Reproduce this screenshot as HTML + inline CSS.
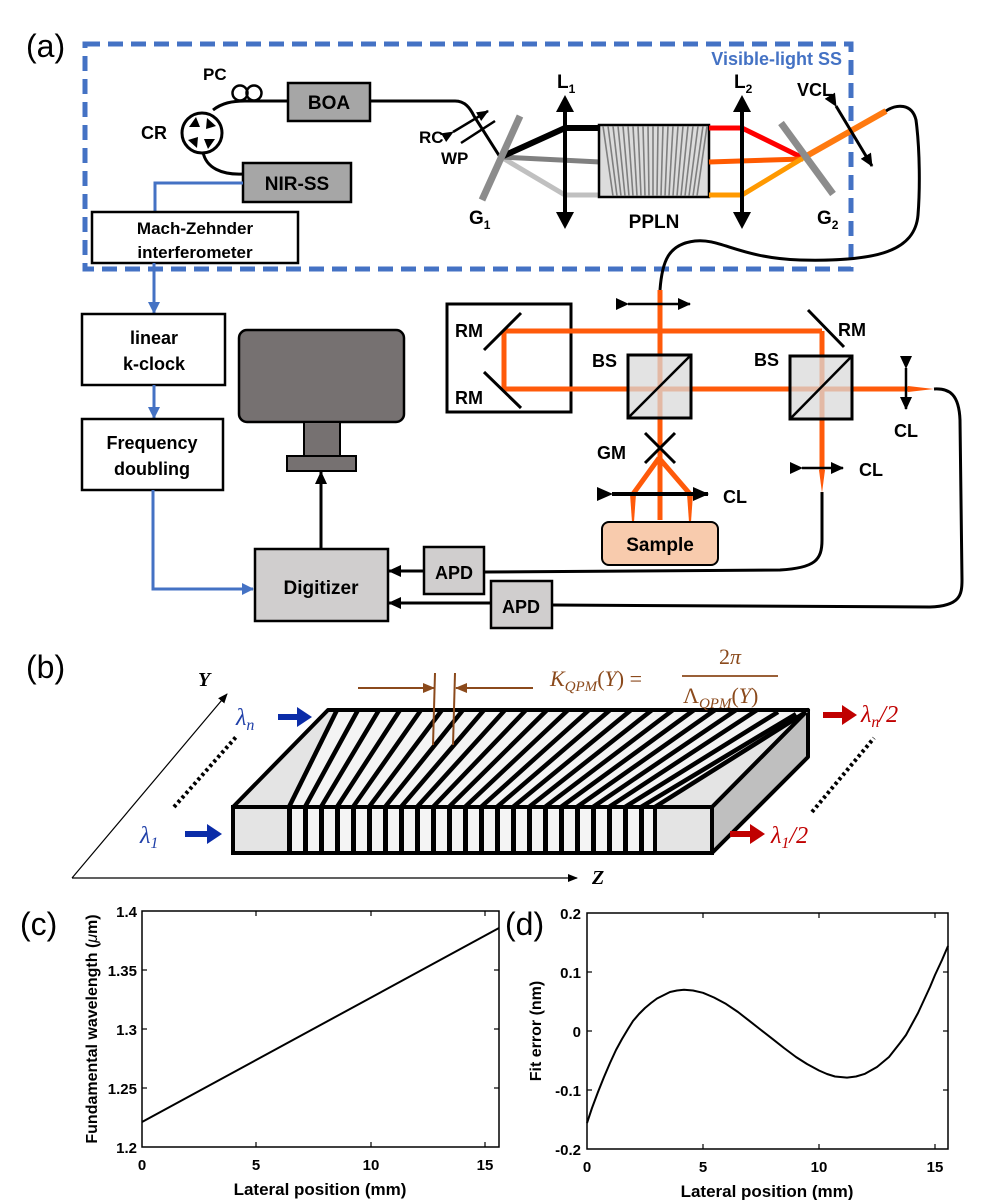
<!DOCTYPE html>
<html><head><meta charset="utf-8"><style>
html,body{margin:0;padding:0;background:#fff;}
svg{display:block;}
.b{font-family:"Liberation Sans",Arial,sans-serif;font-weight:bold;}
.s{font-family:"Liberation Serif","DejaVu Serif",serif;font-style:italic;}
</style></head><body>
<svg width="992" height="1200" viewBox="0 0 992 1200" xmlns="http://www.w3.org/2000/svg">
<defs>
<marker id="ab" markerWidth="12" markerHeight="10" refX="11" refY="5" orient="auto" markerUnits="userSpaceOnUse"><path d="M0,0 L12,5 L0,10 z" fill="#000"/></marker>
<marker id="abl" markerWidth="12" markerHeight="12" refX="11" refY="6" orient="auto" markerUnits="userSpaceOnUse"><path d="M0,0 L12,6 L0,12 z" fill="#4472C4"/></marker>
<marker id="ak" markerWidth="16" markerHeight="14" refX="15" refY="7" orient="auto" markerUnits="userSpaceOnUse"><path d="M0,0 L16,7 L0,14 z" fill="#000"/></marker>
<marker id="ak2" markerWidth="13" markerHeight="12" refX="12" refY="6" orient="auto" markerUnits="userSpaceOnUse"><path d="M0,0 L13,6 L0,12 z" fill="#000"/></marker>
<marker id="br" markerWidth="12" markerHeight="10" refX="11" refY="5" orient="auto" markerUnits="userSpaceOnUse"><path d="M0,0 L12,5 L0,10 z" fill="#8B4A1C"/></marker>
<marker id="ax" markerWidth="10" markerHeight="8" refX="9" refY="4" orient="auto" markerUnits="userSpaceOnUse"><path d="M0,0 L10,4 L0,8 z" fill="#000"/></marker>
</defs>

<!-- ===== Panel (a) ===== -->
<text x="26" y="57" font-family="Liberation Sans,sans-serif" font-size="32">(a)</text>
<rect x="85" y="44" width="766" height="225" fill="none" stroke="#4472C4" stroke-width="5" stroke-dasharray="15,8"/>
<text x="842" y="65" class="b" font-size="18" fill="#4472C4" text-anchor="end">Visible-light SS</text>

<path d="M213,110 C222,103 232,101 245,101 L288,101" fill="none" stroke="#000" stroke-width="3"/>
<path d="M370,101 L455,101 C465,101 470,108 474,116 L500,157" fill="none" stroke="#000" stroke-width="3"/>
<path d="M203,152 C206,168 222,175 243,174" fill="none" stroke="#000" stroke-width="3"/>
<circle cx="240" cy="93" r="7.5" fill="none" stroke="#000" stroke-width="2.5"/>
<circle cx="254" cy="93" r="7.5" fill="none" stroke="#000" stroke-width="2.5"/>
<text x="203" y="80" class="b" font-size="17">PC</text>
<circle cx="202" cy="133" r="20" fill="#fff" stroke="#000" stroke-width="3"/>
<polygon points="189,127 196,117 200,127" fill="#000"/>
<polygon points="207,118 216,126 206,129" fill="#000"/>
<polygon points="215,139 208,149 204,139" fill="#000"/>
<polygon points="197,148 188,140 198,137" fill="#000"/>
<text x="141" y="139" class="b" font-size="18">CR</text>
<rect x="288" y="83" width="82" height="38" fill="#A6A6A6" stroke="#000" stroke-width="2.5"/>
<text x="329" y="109" class="b" font-size="19" text-anchor="middle">BOA</text>
<rect x="243" y="163" width="108" height="39" fill="#A6A6A6" stroke="#000" stroke-width="2.5"/>
<text x="297" y="190" class="b" font-size="19" text-anchor="middle">NIR-SS</text>
<line x1="453" y1="132" x2="488" y2="111" stroke="#000" stroke-width="2.5" marker-start="url(#ab)" marker-end="url(#ab)"/>
<line x1="461" y1="143" x2="495" y2="121" stroke="#000" stroke-width="2.5"/>
<text x="419" y="143" class="b" font-size="17">RC</text>
<text x="441" y="164" class="b" font-size="17">WP</text>

<path d="M243,183 L155,183 L155,212" fill="none" stroke="#4472C4" stroke-width="3"/>
<rect x="92" y="212" width="206" height="51" fill="#fff" stroke="#000" stroke-width="2.5"/>
<text x="195" y="234" class="b" font-size="17" text-anchor="middle">Mach-Zehnder</text>
<text x="195" y="258" class="b" font-size="17" text-anchor="middle">interferometer</text>
<line x1="154" y1="263" x2="154" y2="313" stroke="#4472C4" stroke-width="3" marker-end="url(#abl)"/>
<rect x="82" y="314" width="143" height="71" fill="#fff" stroke="#000" stroke-width="2.5"/>
<text x="154" y="344" class="b" font-size="18" text-anchor="middle">linear</text>
<text x="154" y="370" class="b" font-size="18" text-anchor="middle">k-clock</text>
<line x1="154" y1="385" x2="154" y2="418" stroke="#4472C4" stroke-width="3" marker-end="url(#abl)"/>
<rect x="82" y="419" width="141" height="71" fill="#fff" stroke="#000" stroke-width="2.5"/>
<text x="152" y="449" class="b" font-size="18" text-anchor="middle">Frequency</text>
<text x="152" y="475" class="b" font-size="18" text-anchor="middle">doubling</text>
<path d="M153,490 L153,589 L253,589" fill="none" stroke="#4472C4" stroke-width="3" marker-end="url(#abl)"/>

<rect x="239" y="330" width="165" height="92" rx="8" fill="#767171" stroke="#000" stroke-width="2.5"/>
<rect x="304" y="422" width="36" height="34" fill="#767171" stroke="#000" stroke-width="2"/>
<rect x="287" y="456" width="69" height="15" fill="#767171" stroke="#000" stroke-width="2"/>
<line x1="321" y1="548" x2="321" y2="472" stroke="#000" stroke-width="3" marker-end="url(#ak2)"/>
<rect x="255" y="549" width="133" height="72" fill="#D0CECE" stroke="#000" stroke-width="2.5"/>
<text x="321" y="594" class="b" font-size="19" text-anchor="middle">Digitizer</text>
<rect x="424" y="547" width="60" height="47" fill="#D0CECE" stroke="#000" stroke-width="2.5"/>
<text x="454" y="579" class="b" font-size="18" text-anchor="middle">APD</text>
<rect x="491" y="581" width="61" height="47" fill="#D0CECE" stroke="#000" stroke-width="2.5"/>
<text x="521" y="613" class="b" font-size="18" text-anchor="middle">APD</text>
<line x1="424" y1="571" x2="389" y2="571" stroke="#000" stroke-width="3" marker-end="url(#ak2)"/>
<line x1="491" y1="603" x2="389" y2="603" stroke="#000" stroke-width="3" marker-end="url(#ak2)"/>
<path d="M484,572 L780,570 C815,568 822,560 822,540 L822,492" fill="none" stroke="#000" stroke-width="3"/>
<path d="M552,605 L930,607 C960,606 962,595 962,580 L960,420 C959,395 950,388 934,389" fill="none" stroke="#000" stroke-width="3"/>

<path d="M501,157 L565,195 L600,195" fill="none" stroke="#C0C0C0" stroke-width="5"/>
<path d="M501,157 L600,162" fill="none" stroke="#808080" stroke-width="5"/>
<path d="M501,157 L565,128 L600,128" fill="none" stroke="#000" stroke-width="6"/>
<line x1="482" y1="200" x2="520" y2="116" stroke="#8C8C8C" stroke-width="7"/>
<text x="469" y="224" class="b" font-size="19">G<tspan font-size="12" dy="5">1</tspan></text>
<line x1="565" y1="108" x2="565" y2="216" stroke="#000" stroke-width="4"/>
<polygon points="565,95 556,112 574,112" fill="#000"/>
<polygon points="565,229 556,212 574,212" fill="#000"/>
<text x="557" y="88" class="b" font-size="19">L<tspan font-size="12" dy="5">1</tspan></text>

<rect x="599" y="125" width="110" height="72" fill="#DCDCDC" stroke="#000" stroke-width="2.5"/>
<g stroke="#7F7F7F" stroke-width="1.6">
<line x1="603" y1="126" x2="613" y2="196"/><line x1="608" y1="126" x2="617" y2="196"/><line x1="613" y1="126" x2="621" y2="196"/><line x1="618" y1="126" x2="625" y2="196"/><line x1="623" y1="126" x2="629" y2="196"/><line x1="628" y1="126" x2="633" y2="196"/><line x1="633" y1="126" x2="637" y2="196"/><line x1="638" y1="126" x2="641" y2="196"/><line x1="643" y1="126" x2="645" y2="196"/><line x1="648" y1="126" x2="649" y2="196"/><line x1="653" y1="126" x2="653" y2="196"/><line x1="658" y1="126" x2="657" y2="196"/><line x1="663" y1="126" x2="661" y2="196"/><line x1="668" y1="126" x2="665" y2="196"/><line x1="673" y1="126" x2="669" y2="196"/><line x1="678" y1="126" x2="673" y2="196"/><line x1="683" y1="126" x2="677" y2="196"/><line x1="688" y1="126" x2="681" y2="196"/><line x1="693" y1="126" x2="685" y2="196"/><line x1="698" y1="126" x2="689" y2="196"/><line x1="703" y1="126" x2="693" y2="196"/><line x1="707" y1="126" x2="697" y2="196"/>
</g>
<text x="654" y="228" class="b" font-size="19" text-anchor="middle">PPLN</text>

<path d="M709,128 L742,128 L803,158" fill="none" stroke="#FF0000" stroke-width="5"/>
<path d="M709,162 L803,159" fill="none" stroke="#FF5A00" stroke-width="5"/>
<path d="M709,195 L742,195 L803,158" fill="none" stroke="#FF9900" stroke-width="5"/>
<path d="M803,158 L886,111" fill="none" stroke="#FF7A10" stroke-width="6"/>
<line x1="742" y1="108" x2="742" y2="216" stroke="#000" stroke-width="4"/>
<polygon points="742,95 733,112 751,112" fill="#000"/>
<polygon points="742,229 733,212 751,212" fill="#000"/>
<text x="734" y="88" class="b" font-size="19">L<tspan font-size="12" dy="5">2</tspan></text>
<line x1="781" y1="123" x2="833" y2="194" stroke="#8C8C8C" stroke-width="7"/>
<text x="817" y="224" class="b" font-size="19">G<tspan font-size="12" dy="5">2</tspan></text>
<line x1="836" y1="106" x2="872" y2="166" stroke="#000" stroke-width="3" marker-start="url(#ak2)" marker-end="url(#ak2)"/>
<text x="797" y="96" class="b" font-size="18">VCL</text>
<path d="M886,111 C896,104 912,103 916,120 C920,150 920,190 918,215 C915,250 880,262 800,260 C740,258 720,238 695,241 C668,244 662,262 660,290" fill="none" stroke="#000" stroke-width="3"/>

<rect x="447" y="304" width="124" height="108" fill="none" stroke="#000" stroke-width="3"/>
<path d="M660,290 L660,520" fill="none" stroke="#FF5A0A" stroke-width="5"/>
<path d="M504,331 L822,331 M504,331 L504,389 M504,389 L908,389 M822,331 L822,470" fill="none" stroke="#FF5A0A" stroke-width="5"/>
<polygon points="908,386 934,389 908,392" fill="#FF5A0A"/>
<polygon points="819,470 825,470 822,493" fill="#FF5A0A"/>
<line x1="484" y1="350" x2="521" y2="313" stroke="#000" stroke-width="3"/>
<line x1="484" y1="372" x2="521" y2="408" stroke="#000" stroke-width="3"/>
<text x="455" y="337" class="b" font-size="18">RM</text>
<text x="455" y="404" class="b" font-size="18">RM</text>
<line x1="808" y1="310" x2="844" y2="347" stroke="#000" stroke-width="3"/>
<text x="838" y="336" class="b" font-size="18">RM</text>
<line x1="628" y1="304" x2="690" y2="304" stroke="#000" stroke-width="2.5" marker-start="url(#ak2)" marker-end="url(#ak2)"/>
<rect x="628" y="355" width="63" height="63" fill="#D9D9D9" fill-opacity="0.75" stroke="#000" stroke-width="3"/>
<line x1="628" y1="418" x2="691" y2="355" stroke="#000" stroke-width="2.5"/>
<text x="592" y="367" class="b" font-size="18">BS</text>
<rect x="790" y="356" width="62" height="63" fill="#D9D9D9" fill-opacity="0.75" stroke="#000" stroke-width="3"/>
<line x1="790" y1="419" x2="852" y2="356" stroke="#000" stroke-width="2.5"/>
<text x="754" y="366" class="b" font-size="18">BS</text>
<line x1="906" y1="368" x2="906" y2="409" stroke="#000" stroke-width="2.5" marker-start="url(#ak2)" marker-end="url(#ak2)"/>
<text x="894" y="437" class="b" font-size="18">CL</text>
<line x1="802" y1="468" x2="843" y2="468" stroke="#000" stroke-width="2.5" marker-start="url(#ak2)" marker-end="url(#ak2)"/>
<text x="859" y="476" class="b" font-size="18">CL</text>
<path d="M659,458 L633,494 M659,458 L690,494" fill="none" stroke="#FF5A0A" stroke-width="5"/>
<polygon points="630,494 636,494 634,522 632,522" fill="#FF5A0A"/>
<polygon points="687,494 693,494 691,522 689,522" fill="#FF5A0A"/>
<line x1="645" y1="433" x2="675" y2="463" stroke="#000" stroke-width="3"/>
<line x1="675" y1="433" x2="645" y2="463" stroke="#000" stroke-width="3"/>
<text x="597" y="459" class="b" font-size="18">GM</text>
<line x1="612" y1="494" x2="708" y2="494" stroke="#000" stroke-width="4" marker-start="url(#ak)" marker-end="url(#ak)"/>
<text x="723" y="503" class="b" font-size="18">CL</text>
<rect x="602" y="522" width="116" height="43" rx="7" fill="#F8CBAD" stroke="#000" stroke-width="2"/>
<text x="660" y="551" class="b" font-size="19" text-anchor="middle">Sample</text>

<!-- ===== Panel (b) ===== -->
<text x="26" y="678" font-family="Liberation Sans,sans-serif" font-size="32">(b)</text>
<line x1="72" y1="878" x2="227" y2="694" stroke="#000" stroke-width="1.2" marker-end="url(#ax)"/>
<line x1="72" y1="878" x2="577" y2="878" stroke="#000" stroke-width="1.2" marker-end="url(#ax)"/>
<text x="198" y="686" class="s" font-weight="bold" font-size="20">Y</text>
<text x="592" y="884" class="s" font-weight="bold" font-size="20">Z</text>
<line x1="174" y1="807" x2="236" y2="737" stroke="#000" stroke-width="4" stroke-dasharray="3,3"/>
<line x1="812" y1="812" x2="874" y2="738" stroke="#000" stroke-width="4" stroke-dasharray="3,3"/>
<text x="236" y="725" class="s" font-size="24" fill="#1F3FA8">λ<tspan font-size="16" dy="5">n</tspan></text>
<text x="140" y="843" class="s" font-size="24" fill="#1F3FA8">λ<tspan font-size="16" dy="5">1</tspan></text>
<polygon points="278,714 297,714 297,707 312,717 297,727 297,720 278,720" fill="#0B2CA8"/>
<polygon points="185,831 207,831 207,824 222,834 207,844 207,837 185,837" fill="#0B2CA8"/>
<polygon points="712,807 808,710 808,757 712,853" fill="#BFBFBF" stroke="#000" stroke-width="4" stroke-linejoin="round"/>
<polygon points="233,807 712,807 808,710 328,710" fill="#E4E4E4" stroke="#000" stroke-width="4" stroke-linejoin="round"/>
<polygon points="287,807 655,807 808,712 337,712" fill="#F4F4F4"/>
<g stroke="#000" stroke-width="4.5">
<line x1="289" y1="807" x2="337" y2="710"/><line x1="305" y1="807" x2="358" y2="710"/><line x1="321" y1="807" x2="379" y2="710"/><line x1="337" y1="807" x2="400" y2="710"/><line x1="353" y1="807" x2="421" y2="710"/><line x1="369" y1="807" x2="442" y2="710"/><line x1="385" y1="807" x2="463" y2="710"/><line x1="401" y1="807" x2="484" y2="710"/><line x1="417" y1="807" x2="505" y2="710"/><line x1="433" y1="807" x2="526" y2="710"/><line x1="449" y1="807" x2="547" y2="710"/><line x1="465" y1="807" x2="568" y2="710"/><line x1="481" y1="807" x2="589" y2="710"/><line x1="497" y1="807" x2="610" y2="710"/><line x1="513" y1="807" x2="631" y2="710"/><line x1="529" y1="807" x2="652" y2="710"/><line x1="545" y1="807" x2="673" y2="710"/><line x1="561" y1="807" x2="694" y2="710"/><line x1="577" y1="807" x2="715" y2="710"/><line x1="593" y1="807" x2="736" y2="710"/><line x1="609" y1="807" x2="757" y2="710"/><line x1="625" y1="807" x2="778" y2="712"/><line x1="641" y1="807" x2="796" y2="714"/><line x1="655" y1="807" x2="806" y2="712"/>
</g>
<rect x="233" y="807" width="479" height="46" fill="#E4E4E4" stroke="#000" stroke-width="4"/>
<rect x="289" y="807" width="366" height="46" fill="#F4F4F4"/>
<g fill="#000">
<rect x="287" y="807" width="5" height="46"/><rect x="303" y="807" width="5" height="46"/><rect x="319" y="807" width="5" height="46"/><rect x="335" y="807" width="5" height="46"/><rect x="351" y="807" width="5" height="46"/><rect x="367" y="807" width="5" height="46"/><rect x="383" y="807" width="5" height="46"/><rect x="399" y="807" width="5" height="46"/><rect x="415" y="807" width="5" height="46"/><rect x="431" y="807" width="5" height="46"/><rect x="447" y="807" width="5" height="46"/><rect x="463" y="807" width="5" height="46"/><rect x="479" y="807" width="5" height="46"/><rect x="495" y="807" width="5" height="46"/><rect x="511" y="807" width="5" height="46"/><rect x="527" y="807" width="5" height="46"/><rect x="543" y="807" width="5" height="46"/><rect x="559" y="807" width="5" height="46"/><rect x="575" y="807" width="5" height="46"/><rect x="591" y="807" width="5" height="46"/><rect x="607" y="807" width="5" height="46"/><rect x="623" y="807" width="5" height="46"/><rect x="639" y="807" width="5" height="46"/><rect x="653" y="807" width="4" height="46"/>
</g>
<rect x="233" y="807" width="479" height="46" fill="none" stroke="#000" stroke-width="4"/>
<polygon points="823,712 842,712 842,705 857,715 842,725 842,718 823,718" fill="#C00000"/>
<text x="861" y="722" class="s" font-size="24" fill="#C00000">λ<tspan font-size="16" dy="5">n</tspan><tspan dy="-5">/2</tspan></text>
<polygon points="730,831 750,831 750,824 765,834 750,844 750,837 730,837" fill="#C00000"/>
<text x="771" y="843" class="s" font-size="24" fill="#C00000">λ<tspan font-size="16" dy="5">1</tspan><tspan dy="-5">/2</tspan></text>
<line x1="435" y1="673" x2="433" y2="745" stroke="#8B4A1C" stroke-width="2"/>
<line x1="455" y1="673" x2="453" y2="745" stroke="#8B4A1C" stroke-width="2"/>
<line x1="358" y1="688" x2="434" y2="688" stroke="#8B4A1C" stroke-width="2" marker-end="url(#br)"/>
<line x1="533" y1="688" x2="456" y2="688" stroke="#8B4A1C" stroke-width="2" marker-end="url(#br)"/>
<text x="550" y="686" class="s" font-size="22" fill="#8B4A1C">K<tspan font-size="15" dy="5">QPM</tspan><tspan dy="-5" font-style="normal">(</tspan>Y<tspan font-style="normal">) =</tspan></text>
<line x1="682" y1="676" x2="778" y2="676" stroke="#8B4A1C" stroke-width="1.8"/>
<text x="730" y="664" class="s" font-size="22" fill="#8B4A1C" text-anchor="middle"><tspan font-style="normal">2</tspan>π</text>
<text x="683" y="703" font-family="Liberation Serif,serif" font-size="22" fill="#8B4A1C">Λ<tspan font-style="italic" font-size="15" dy="5">QPM</tspan><tspan dy="-5">(</tspan><tspan font-style="italic">Y</tspan>)</text>

<!-- ===== Panel (c) ===== -->
<text x="20" y="935" font-family="Liberation Sans,sans-serif" font-size="32">(c)</text>
<rect x="142" y="911" width="357" height="236" fill="none" stroke="#000" stroke-width="1.5"/>
<g stroke="#000" stroke-width="1.2">
<line x1="256" y1="1147" x2="256" y2="1142"/><line x1="371" y1="1147" x2="371" y2="1142"/><line x1="485" y1="1147" x2="485" y2="1142"/>
<line x1="256" y1="911" x2="256" y2="916"/><line x1="371" y1="911" x2="371" y2="916"/><line x1="485" y1="911" x2="485" y2="916"/>
<line x1="142" y1="970" x2="147" y2="970"/><line x1="142" y1="1029" x2="147" y2="1029"/><line x1="142" y1="1088" x2="147" y2="1088"/>
<line x1="499" y1="970" x2="494" y2="970"/><line x1="499" y1="1029" x2="494" y2="1029"/><line x1="499" y1="1088" x2="494" y2="1088"/>
</g>
<line x1="142" y1="1122" x2="499" y2="928" stroke="#000" stroke-width="2"/>
<g class="b" font-size="15" text-anchor="end">
<text x="137" y="917">1.4</text><text x="137" y="976">1.35</text><text x="137" y="1035">1.3</text><text x="137" y="1094">1.25</text><text x="137" y="1153">1.2</text>
</g>
<g class="b" font-size="15" text-anchor="middle">
<text x="142" y="1170">0</text><text x="256" y="1170">5</text><text x="371" y="1170">10</text><text x="485" y="1170">15</text>
</g>
<text x="320" y="1195" class="b" font-size="17" text-anchor="middle">Lateral position (mm)</text>
<text transform="translate(97,1029) rotate(-90)" class="b" font-size="16" text-anchor="middle">Fundamental wavelength (<tspan font-style="italic" font-weight="normal">μ</tspan>m)</text>

<!-- ===== Panel (d) ===== -->
<text x="505" y="935" font-family="Liberation Sans,sans-serif" font-size="32">(d)</text>
<rect x="587" y="913" width="361" height="236" fill="none" stroke="#000" stroke-width="1.5"/>
<g stroke="#000" stroke-width="1.2">
<line x1="703" y1="1149" x2="703" y2="1144"/><line x1="819" y1="1149" x2="819" y2="1144"/><line x1="935" y1="1149" x2="935" y2="1144"/>
<line x1="703" y1="913" x2="703" y2="918"/><line x1="819" y1="913" x2="819" y2="918"/><line x1="935" y1="913" x2="935" y2="918"/>
<line x1="587" y1="972" x2="592" y2="972"/><line x1="587" y1="1031" x2="592" y2="1031"/><line x1="587" y1="1090" x2="592" y2="1090"/>
<line x1="948" y1="972" x2="943" y2="972"/><line x1="948" y1="1031" x2="943" y2="1031"/><line x1="948" y1="1090" x2="943" y2="1090"/>
</g>
<polyline fill="none" stroke="#000" stroke-width="2" stroke-linejoin="round" points="587,1123 592,1108 598,1092 604,1077 610,1063 616,1050 622,1039 628,1029 633,1021 639,1014 645,1008 651,1003 657,998.5 664,995 670,992 677,990.5 684,989.7 693,990.5 703,992.8 714,997.5 726,1003.9 738,1012 749,1020.6 761,1030 773,1039.3 784,1048 796,1057 807,1064 819,1070.5 827,1074 835,1076.5 847,1077.6 856,1076.5 865,1073.8 877,1067 889,1057 900,1043 906,1035 912,1024 918,1013 924,1000 930,987 935,975 942,960 948,946"/>
<g class="b" font-size="15" text-anchor="end">
<text x="581" y="919">0.2</text><text x="581" y="978">0.1</text><text x="581" y="1037">0</text><text x="581" y="1096">-0.1</text><text x="581" y="1155">-0.2</text>
</g>
<g class="b" font-size="15" text-anchor="middle">
<text x="587" y="1172">0</text><text x="703" y="1172">5</text><text x="819" y="1172">10</text><text x="935" y="1172">15</text>
</g>
<text x="767" y="1197" class="b" font-size="17" text-anchor="middle">Lateral position (mm)</text>
<text transform="translate(541,1031) rotate(-90)" class="b" font-size="16" text-anchor="middle">Fit error (nm)</text>
</svg>
</body></html>
